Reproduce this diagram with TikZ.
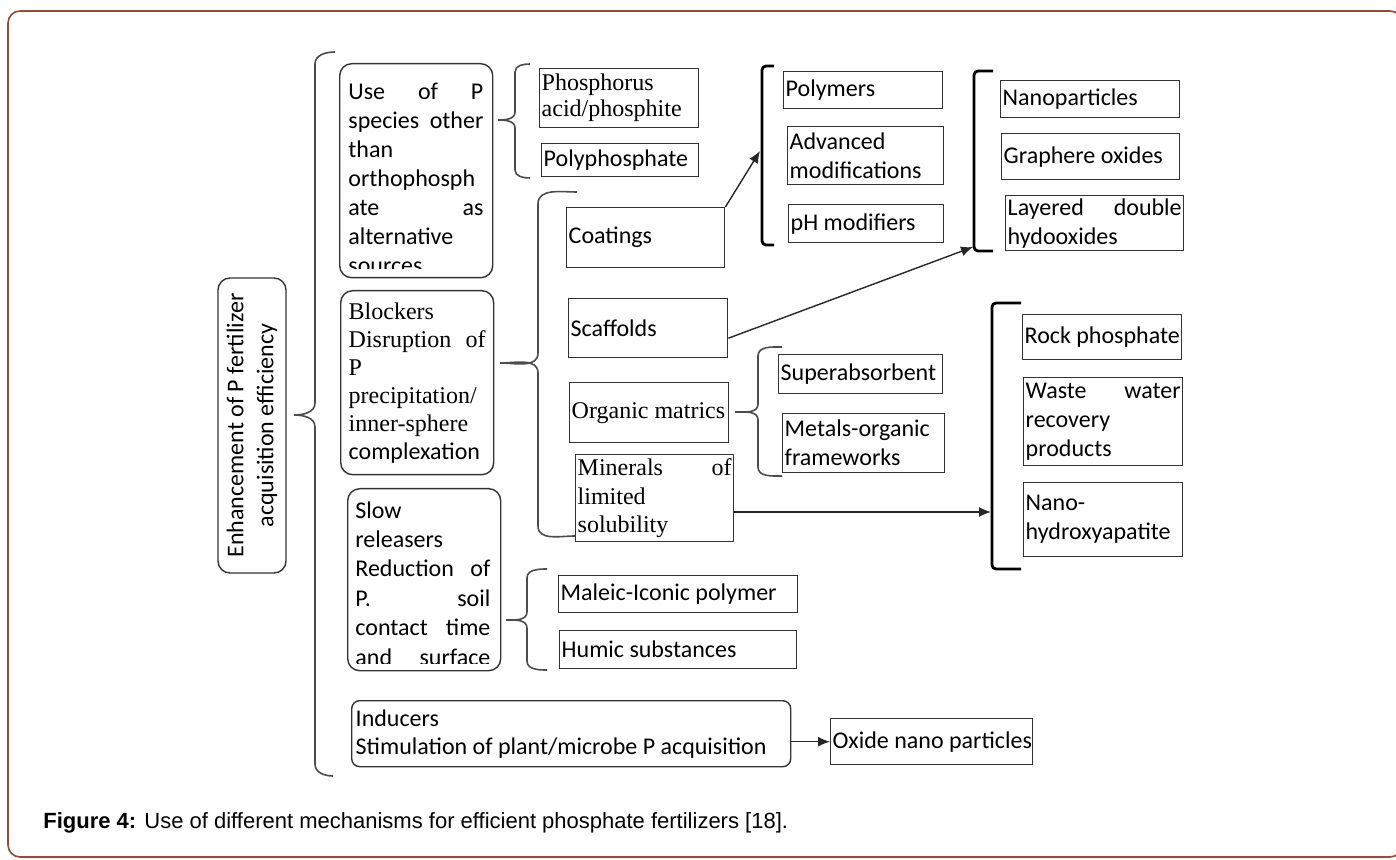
\documentclass[tikz,border=0pt]{standalone}
\usepackage{fontspec}
\setmainfont{Liberation Serif}
\setsansfont{Carlito}
\newfontfamily\capfont{Liberation Sans}
\usepackage{tikz}
\usetikzlibrary{arrows.meta,positioning}
\definecolor{framebrown}{RGB}{150,75,55}
\tikzset{
    %Define standard arrow tip
    >={Latex[length=6pt,width=5pt]},
    %Define style for boxes
    item/.style={
           rectangle,
           draw=black!80, line width=0.7pt,
           anchor=north west,
           inner xsep=1pt, inner ysep=0pt,
           align=flush left,
           font=\sffamily\fontsize{12}{14.5}\selectfont},
    serifitem/.style={
           item,
           font=\rmfamily\fontsize{12}{13.5}\selectfont},
    group/.style={
           rectangle,
           rounded corners=6pt,
           draw=black!80, line width=0.7pt,
           anchor=north west,
           inner sep=0pt},
    grouptext/.style={
           anchor=north west,
           inner sep=0pt,
           align=flush left,
           text width=67.5pt,
           font=\sffamily\fontsize{12}{14.7}\selectfont},
    % Define brace and arrow style
    brace/.style={draw=black!70, line width=0.8pt},
    bracket/.style={draw=black, line width=1.4pt, rounded corners=2pt},
    pil/.style={->, line width=0.7pt, draw=black!85}
}

\begin{document}
\begin{tikzpicture}[x=0.5pt,y=-0.5pt]
\useasboundingbox (0,0) rectangle (1396,860);
\draw[framebrown, line width=0.8pt, rounded corners=6pt] (8,11) rectangle (1402,857);
 %root
\node[group, anchor=center, rotate=90, minimum width=147.5pt, minimum height=34pt, align=center,
  font=\sffamily\fontsize{12}{15}\selectfont] (root) at (252,425.5) {Enhancement of P fertilizer\\acquisition efficiency};
\draw[brace] (335,52) to[out=180,in=90] (315,64) -- (315,403) to[out=-90,in=0] (294,415)
  to[out=0,in=90] (315,427) -- (315,764) to[out=-90,in=180] (333,776);
 %mechanisms
\node[group, minimum width=76.5pt, minimum height=107pt] (use) at (339,63) {};
\begin{scope}
\clip[rounded corners=6pt] ([yshift=5pt]use.south west) rectangle (use.north east);
\node[grouptext, xshift=4.5pt, yshift=-10pt, font=\sffamily\fontsize{12}{14.5}\selectfont] (usetxt) at (use.north west)
  {Use\hfill of\hfill P\\species\hfill other\\than\\orthophosph\\ate\hfill as\\alternative\\sources};
\end{scope}
\node[group, text width=68.5pt, inner xsep=4pt, minimum height=92pt, align=flush left,
  font=\rmfamily\fontsize{12}{14}\selectfont] (blk) at (340,290)
  {Blockers\\Disruption\hfill of\\P\\precipitation/\\inner-sphere\\{\sffamily complexation}};
\node[group, minimum width=76.5pt, minimum height=91pt] (slow) at (347,488) {};
\begin{scope}
\clip[rounded corners=6pt] ([yshift=4pt]slow.south west) rectangle (slow.north east);
\node[grouptext, xshift=4pt, yshift=-6.5pt] (slowtxt) at (slow.north west)
  {Slow\\releasers\\Reduction\hfill of\\P.\hfill soil\\contact\hfill time\\and\hfill surface};
\end{scope}
\node[group, rounded corners=4pt, text width=215.5pt, inner xsep=2pt, minimum height=33pt, align=flush left,
  font=\sffamily\fontsize{12}{14}\selectfont] (ind) at (351,700) {Inducers\\Stimulation of plant/microbe P acquisition};
 %P species
\draw[brace] (530,64) to[out=180,in=90] (515,72) -- (515,112) to[out=-90,in=0] (498,120)
  to[out=0,in=90] (515,128) -- (515,170) to[out=-90,in=180] (530,178);
\node[serifitem, text width=77.5pt, minimum height=29.5pt, font=\rmfamily\fontsize{12}{13}\selectfont] (phos) at (539,68) {Phosphorus\\acid/phosphite};
\node[item, text width=76.5pt, minimum height=16.5pt] (poly) at (541,143) {Polyphosphate};
 %blockers
\draw[brace] (577,192) to[out=180,in=90] (538,204) -- (538,353) to[out=-90,in=0] (500,363)
  to[out=0,in=90] (538,373) -- (538,526) to[out=-90,in=180] (575,536);
\node[item, text width=77pt, minimum height=30pt] (coat) at (566,207) {Coatings};
\node[item, text width=77.5pt, minimum height=29.5pt] (scaf) at (568,298) {Scaffolds};
\node[serifitem, text width=77.5pt, minimum height=30pt] (orgm) at (569,382) {\mbox{Organic matrics}};
\node[serifitem, text width=77pt, minimum height=43.5pt, font=\rmfamily\fontsize{12}{14.2}\selectfont] (minr) at (575,454) {Minerals\hfill of\\limited\\solubility};
 %coatings
\draw[bracket] (774,66) -- (762,66) -- (762,245) -- (774,245);
\node[item, text width=77.5pt, minimum height=18.5pt] (plmr) at (783,71) {Polymers};
\node[item, text width=76pt, minimum height=29pt] (advm) at (787,126) {Advanced\\modifications};
\node[item, text width=75.5pt, minimum height=19pt] (phmd) at (788,204) {pH modifiers};
 %scaffolds
\draw[bracket] (993,71) -- (974,71) -- (974,251) -- (993,251);
\node[item, text width=87.5pt, minimum height=18.5pt] (nano) at (1000,80) {Nanoparticles};
\node[item, text width=87pt, minimum height=23pt] (grph) at (1001,133) {Graphere oxides};
\node[item, text width=87pt, minimum height=27.5pt] (ldh) at (1005,195) {Layered\hfill double\\hydooxides};
 %organic matrics
\draw[brace] (782,347) to[out=180,in=90] (758,356) -- (758,404) to[out=-90,in=0] (735,412)
  to[out=0,in=90] (758,420) -- (758,467) to[out=-90,in=180] (782,476);
\node[item, text width=80pt, minimum height=19.5pt] (supa) at (778,354) {Superabsorbent};
\node[item, text width=79pt, minimum height=29.5pt] (mof) at (782,413) {Metals-organic\\frameworks};
 %minerals
\draw[bracket] (1021,303) -- (992,303) -- (992,569) -- (1021,569);
\node[item, text width=77.5pt, minimum height=22.5pt] (rock) at (1022,314) {\mbox{Rock phosphate}};
\node[item, text width=77.5pt, minimum height=44pt] (wast) at (1023,377) {Waste\hfill water\\recovery\\products};
\node[item, text width=77.5pt, minimum height=37pt] (nhap) at (1023,482) {Nano-\\hydroxyapatite};
 %slow releasers
\draw[brace] (547,569) to[out=180,in=90] (527,578) -- (527,612) to[out=-90,in=0] (506,620)
  to[out=0,in=90] (527,628) -- (527,661) to[out=-90,in=180] (547,670);
\node[item, text width=117.5pt, minimum height=18.5pt] (male) at (558,575) {Maleic-Iconic polymer};
\node[item, text width=116.5pt, minimum height=19pt] (humi) at (559,630) {Humic substances};
 %inducers
\node[item, text width=99pt, minimum height=23pt] (oxid) at (830,718) {\mbox{Oxide nano particles}};
 %arrows
\coordinate (polin) at (760,151);
\coordinate (nanin) at (973,247);
\coordinate (rockin) at (991,512);
\draw[pil] (coat.north east) -- (polin);
\draw[pil] ([yshift=-5pt]scaf.east) -- (nanin);
\draw[pil] (minr.east |- rockin) -- (rockin);
\draw[pil] (ind.east |- oxid.west) -- (oxid.west);
 %caption
\node[anchor=base west, inner sep=0pt, font=\capfont\fontsize{11}{13}\selectfont] (cap) at (43,828)
  {\textbf{Figure 4:} Use of different mechanisms for efficient phosphate fertilizers [18].};
\end{tikzpicture}
\end{document}
